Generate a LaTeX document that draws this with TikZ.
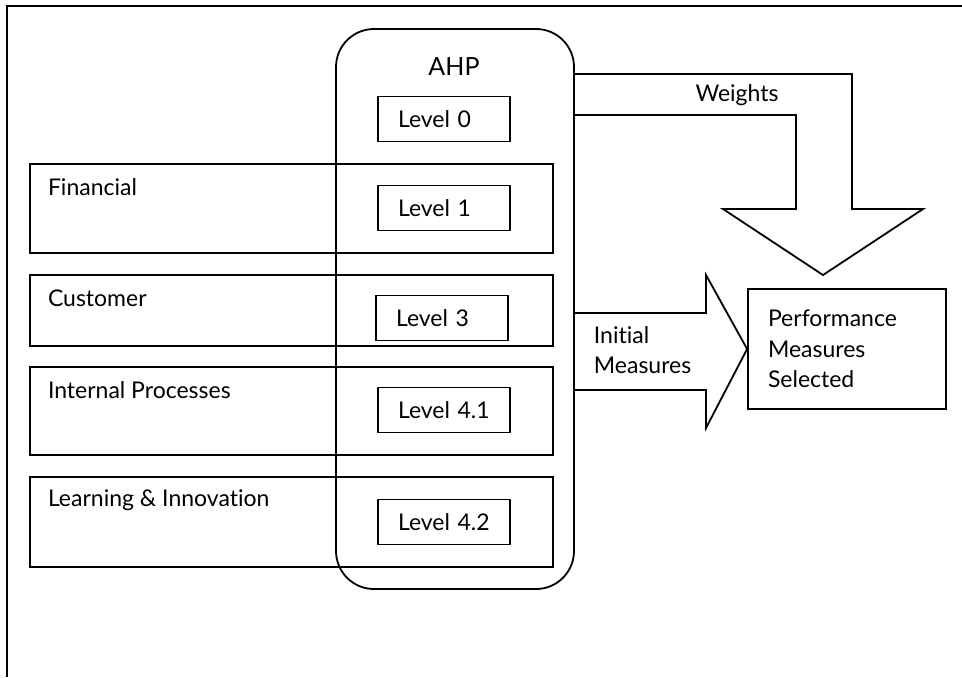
\documentclass[tikz,border=0pt]{standalone}
\usepackage{fontspec}
\setmainfont{Lato}[Ligatures=NoCommon]
\usetikzlibrary{positioning}

\begin{document}
\begin{tikzpicture}[
	x=0.5pt, y=-0.5pt, line width=0.9pt,
	every node/.style={ font=\fontsize{11.5}{15.2}\selectfont },
	levelbox/.style={ draw, minimum height=22.5pt, text width=46pt, inner xsep=10pt, inner ysep=0pt, align=left },
	catbox/.style={ draw, minimum width=261.5pt, inner sep=0pt },
	cattext/.style={ anchor=west, inner sep=0pt }
]

\useasboundingbox (0,0) rectangle (962,677);
\draw (7,677) -- (7,6) -- (962,6);

% AHP column with its levels
\node at (455,309) (ahp) [draw, rounded corners=19pt, minimum width=119pt, minimum height=280pt] {};
\node at (454,67) (ahptitle) [font=\fontsize{12.5}{15}\selectfont] {AHP};
\node at (444,119) (lev0) [levelbox] {Level 0};
\node at (444,208) (lev1) [levelbox] {Level 1};
\node at (442,318) (lev3) [levelbox] {Level 3};
\node at (444,410) (lev41) [levelbox] {Level 4.1};
\node at (444,522) (lev42) [levelbox] {Level 4.2};

% perspectives
\node at (291.5,208.5) (fin) [catbox, minimum height=44.5pt] {};
\node at ([xshift=9pt,yshift=-12pt]fin.north west) [cattext] {Financial};
\node at (291.5,310.5) (cust) [catbox, minimum height=35.5pt] {};
\node at ([xshift=9pt,yshift=-12pt]cust.north west) [cattext] {Customer};
\node at (291.5,411) (intp) [catbox, minimum height=44pt] {};
\node at ([xshift=9pt,yshift=-12pt]intp.north west) [cattext] {Internal Processes};
\node at (291.5,522) (learn) [catbox, minimum height=45pt] {};
\node at ([xshift=9pt,yshift=-12pt]learn.north west) [cattext] {Learning \& Innovation};

% result
\node at (847,349) (perf) [draw, text width=79pt, inner xsep=10pt, minimum height=60pt, align=left] {Performance\\Measures\\Selected};

% block arrows
\coordinate (wt) at (700,74);
\coordinate (wb) at (700,115);
\draw (ahp.east |- wt) -- (852,74) -- (852,209) -- (923,209) -- (823,275)
  -- (723,209) -- (796,209) -- (796,115) -- (ahp.east |- wb);
\node at (737,95) (weights) {Weights};

\coordinate (mt) at (650,313);
\coordinate (mb) at (650,390);
\draw (ahp.east |- mt) -- (706,313) -- (706,275) -- (perf.west)
  -- (706,428) -- (706,390) -- (ahp.east |- mb);
\node at (593,350) (initial) [anchor=west, inner sep=0pt, align=left] {Initial\\Measures};

\end{tikzpicture}
\end{document}
